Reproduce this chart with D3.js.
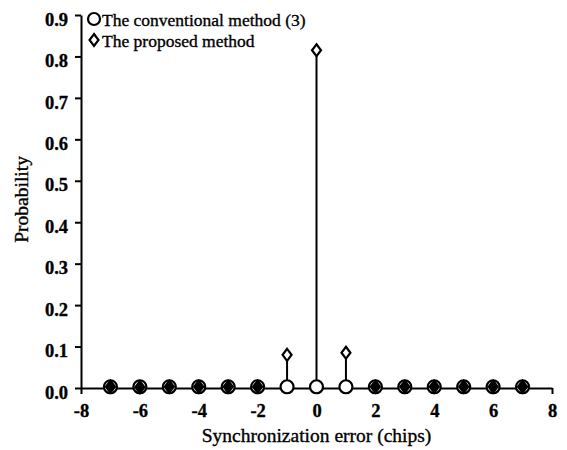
<!DOCTYPE html>
<html>
<head>
<meta charset="utf-8">
<script src="https://cdn.jsdelivr.net/npm/d3@7"></script>
<style>
  body { margin: 0; background: #fff; }
  text { font-family: "Liberation Serif", "DejaVu Serif", serif; fill: #000; stroke: #000; stroke-width: 0.35px; }
  .domain, .tick line { stroke: #000; stroke-width: 2; }
</style>
</head>
<body>
<svg width="567" height="450"></svg>
<script>
// synchronization error in chips
const errors = [-7, -6, -5, -4, -3, -2, -1, 0, 1, 2, 3, 4, 5, 6, 7];
// probabilities
const conventional = [0.003, 0.003, 0.003, 0.003, 0.003, 0.003, 0.003, 0.003, 0.003, 0.003, 0.003, 0.003, 0.003, 0.003, 0.003];
const proposed = [0.003, 0.002, 0.003, 0.003, 0.003, 0.003, 0.08, 0.815, 0.085, 0.003, 0.003, 0.003, 0.003, 0.003, 0.003];
const xTicks = [-8, -6, -4, -2, 0, 2, 4, 6, 8];
const yTicks = [0, 0.1, 0.2, 0.3, 0.4, 0.5, 0.6, 0.7, 0.8, 0.9];
const legendNames = ['The conventional method (3)', 'The proposed method'];

const svg = d3.select('svg');
const m = {left: 81, right: 15, top: 15, bottom: 62};
const W = 567, H = 450;

const x = d3.scaleLinear().domain([-8, 8]).range([m.left, W - m.right]);
const y = d3.scaleLinear().domain([0, 0.9]).range([H - m.bottom, m.top]);

// axes (plain hyphen for negatives, like the original)
svg.append('g')
  .attr('transform', `translate(0,${y(0)})`)
  .call(d3.axisBottom(x).tickValues(xTicks).tickSize(6).tickSizeOuter(0).tickFormat(d => String(d)))
  .call(g => g.selectAll('.tick text')
    .attr('y', 29).attr('dy', 0)
    .attr('font-family', '"Liberation Serif", serif')
    .attr('font-size', 18.5).attr('font-weight', 'bold'));

svg.append('g')
  .attr('transform', `translate(${x(-8)},0)`)
  .call(d3.axisLeft(y).tickValues(yTicks).tickSize(6).tickSizeOuter(0).tickFormat(d3.format('.1f')))
  .call(g => g.selectAll('.tick text')
    .attr('x', -13).attr('dy', '0.55em')
    .attr('font-family', '"Liberation Serif", serif')
    .attr('font-size', 18.5).attr('font-weight', 'bold'));

// stems
const stems = svg.append('g').attr('class', 'stems');
[conventional, proposed].forEach(vals => {
  stems.selectAll(null)
    .data(errors.map((e, i) => ({e, v: vals[i]})))
    .enter()
    .append('line')
    .attr('x1', d => x(d.e))
    .attr('x2', d => x(d.e))
    .attr('y1', y(0))
    .attr('y2', d => y(d.v))
    .attr('stroke', '#000')
    .attr('stroke-width', 2);
});

const diamond = 'M0,-6L4.5,0L0,6L-4.5,0Z';

// conventional markers
svg.append('g')
  .selectAll('circle')
  .data(errors.map((e, i) => ({e, v: conventional[i]})))
  .enter()
  .append('circle')
  .attr('cx', d => x(d.e))
  .attr('cy', d => y(d.v))
  .attr('r', 6.5)
  .attr('fill', '#fff')
  .attr('stroke', '#000')
  .attr('stroke-width', 2.2);

// proposed markers
svg.append('g')
  .selectAll('path')
  .data(errors.map((e, i) => ({e, v: proposed[i]})))
  .enter()
  .append('path')
  .attr('d', diamond)
  .attr('transform', d => `translate(${x(d.e)},${y(d.v)})`)
  .attr('fill', d => d.v < 0.01 ? '#000' : '#fff')
  .attr('stroke', '#000')
  .attr('stroke-width', 2.2);

// legend
const legend = svg.append('g').attr('transform', `translate(${m.left + 13},0)`);
legend.append('circle').attr('cx', 0).attr('cy', 19).attr('r', 6)
  .attr('fill', '#fff').attr('stroke', '#000').attr('stroke-width', 2.2);
legend.append('path').attr('d', diamond).attr('transform', 'translate(0,40)')
  .attr('fill', '#fff').attr('stroke', '#000').attr('stroke-width', 2.2);
legend.selectAll('text')
  .data(legendNames)
  .enter()
  .append('text')
  .attr('x', 8)
  .attr('y', (d, i) => 26 + i * 21)
  .attr('font-size', 17.5)
  .text(d => d);

// axis titles
svg.append('text')
  .attr('x', x(0))
  .attr('y', 442)
  .attr('text-anchor', 'middle')
  .attr('font-size', 19.5)
  .text('Synchronization error (chips)');

svg.append('text')
  .attr('transform', `translate(28,${y(0.455)}) rotate(-90)`)
  .attr('text-anchor', 'middle')
  .attr('font-size', 19.5)
  .text('Probability');
</script>
</body>
</html>
